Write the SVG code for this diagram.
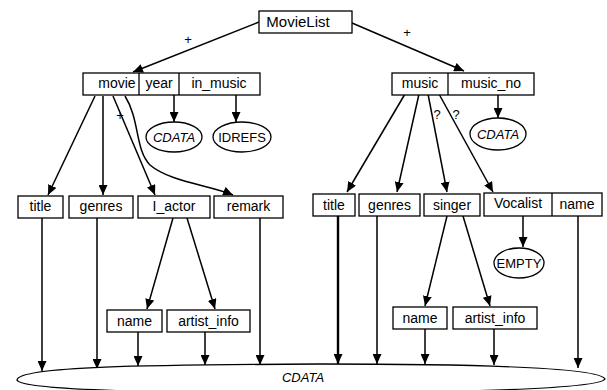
<svg xmlns="http://www.w3.org/2000/svg" width="607" height="390" viewBox="0 0 607 390">
  <defs>
    <marker id="arrow" markerUnits="userSpaceOnUse" markerWidth="10" markerHeight="9" refX="10" refY="4.5" orient="auto">
      <path d="M0,0 L10,4.5 L0,9 Z" fill="#000"/>
    </marker>
    <style>
      .box { fill: #fff; stroke: #000; stroke-width: 1.3; }
      .ell { fill: #fff; stroke: #000; stroke-width: 1.3; }
      .lbl { font-family: "Liberation Sans", Arial, sans-serif; font-size: 14px; fill: #000; text-anchor: middle; }
      .typ { font-family: "Liberation Sans", Arial, sans-serif; font-size: 13px; fill: #000; text-anchor: middle; }
      .it { font-style: italic; }
      .card { font-family: "Liberation Sans", Arial, sans-serif; font-size: 13px; fill: #000; text-anchor: middle; }
      .edge { fill: none; stroke: #000; stroke-width: 1.5; marker-end: url(#arrow); }
    </style>
  </defs>
  <rect width="607" height="390" fill="#fff"/>

  <!-- connectors -->
  <g id="connectors">
    <line class="edge" x1="259" y1="22" x2="133" y2="72"/>
    <line class="edge" x1="352" y1="23" x2="464" y2="71"/>
    <line class="edge" x1="174" y1="95" x2="174" y2="122"/>
    <line class="edge" x1="236" y1="95" x2="236" y2="122"/>
    <line class="edge" x1="498" y1="94" x2="498" y2="118"/>

    <line class="edge" x1="95" y1="96" x2="48" y2="195"/>
    <line class="edge" x1="103" y1="96" x2="103" y2="195"/>
    <line class="edge" x1="113" y1="96" x2="155" y2="195"/>
    <path class="edge" d="M125,96 C140,120 135,150 150,165 C170,182 210,185 233,195"/>

    <line class="edge" x1="405" y1="94" x2="347" y2="192"/>
    <line class="edge" x1="419" y1="94" x2="397" y2="192"/>
    <line class="edge" x1="428" y1="94" x2="447" y2="192"/>
    <line class="edge" x1="439" y1="94" x2="493" y2="192"/>

    <line class="edge" x1="173" y1="218" x2="147" y2="309"/>
    <line class="edge" x1="187" y1="218" x2="215" y2="309"/>
    <line class="edge" x1="447" y1="216" x2="425" y2="306"/>
    <line class="edge" x1="463" y1="216" x2="490" y2="306"/>
    <line class="edge" x1="523" y1="216" x2="523" y2="247"/>

    <line class="edge" x1="42" y1="218" x2="42" y2="371"/>
    <line class="edge" x1="97" y1="218" x2="97" y2="369"/>
    <line class="edge" x1="138" y1="332" x2="138" y2="366"/>
    <line class="edge" x1="205" y1="332" x2="205" y2="365"/>
    <line class="edge" x1="260" y1="218" x2="260" y2="365"/>
    <line class="edge" x1="338" y1="216" x2="338" y2="364" style="stroke-width:2.4"/>
    <line class="edge" x1="377" y1="216" x2="377" y2="364"/>
    <line class="edge" x1="425" y1="329" x2="425" y2="364"/>
    <line class="edge" x1="494" y1="329" x2="494" y2="365"/>
    <line class="edge" x1="578" y1="216" x2="578" y2="368"/>

    <text class="card" x="188" y="44">+</text>
    <text class="card" x="407" y="37">+</text>
    <text class="card" x="120" y="120">+</text>
    <text class="card" x="437" y="119">?</text>
    <text class="card" x="456" y="119">?</text>
  </g>

  <!-- root -->
  <g id="MovieList">
    <rect class="box" x="259" y="11" width="93" height="22"/>
    <text class="lbl" x="298" y="27" style="font-size:15px">MovieList</text>
  </g>

  <!-- movie element with attributes -->
  <g id="movie">
    <rect class="box" x="83" y="73" width="177" height="22"/>
    <line x1="139" y1="73" x2="139" y2="95" stroke="#000" stroke-width="1.3"/>
    <line x1="179" y1="73" x2="179" y2="95" stroke="#000" stroke-width="1.3"/>
    <text class="lbl" x="117" y="88">movie</text>
    <text class="lbl" x="159" y="88">year</text>
    <text class="lbl" x="219" y="88">in_music</text>
  </g>
  <g id="movie-year-type">
    <ellipse class="ell" cx="174" cy="137" rx="28" ry="15"/>
    <text class="typ it" x="174" y="142">CDATA</text>
  </g>
  <g id="movie-in_music-type">
    <ellipse class="ell" cx="242" cy="137" rx="29" ry="15"/>
    <text class="typ" x="242" y="142">IDREFS</text>
  </g>

  <!-- music element with attribute -->
  <g id="music">
    <rect class="box" x="392" y="73" width="142" height="22"/>
    <line x1="448" y1="73" x2="448" y2="95" stroke="#000" stroke-width="1.3"/>
    <text class="lbl" x="420" y="88">music</text>
    <text class="lbl" x="491" y="88">music_no</text>
  </g>
  <g id="music-no-type">
    <ellipse class="ell" cx="498" cy="134" rx="28" ry="16"/>
    <text class="typ it" x="498" y="139">CDATA</text>
  </g>

  <!-- movie children -->
  <g id="movie-title">
    <rect class="box" x="18" y="196" width="45" height="22"/>
    <text class="lbl" x="40.5" y="211">title</text>
  </g>
  <g id="movie-genres">
    <rect class="box" x="69" y="196" width="64" height="22"/>
    <text class="lbl" x="101" y="211">genres</text>
  </g>
  <g id="I_actor">
    <rect class="box" x="138" y="196" width="72" height="22"/>
    <text class="lbl" x="174" y="211">I_actor</text>
  </g>
  <g id="remark">
    <rect class="box" x="214" y="196" width="69" height="22"/>
    <text class="lbl" x="248.5" y="211">remark</text>
  </g>
  <g id="actor-name">
    <rect class="box" x="107" y="310" width="55" height="22"/>
    <text class="lbl" x="134.5" y="326">name</text>
  </g>
  <g id="actor-artist_info">
    <rect class="box" x="167" y="310" width="83" height="22"/>
    <text class="lbl" x="208.5" y="326">artist_info</text>
  </g>

  <!-- music children -->
  <g id="music-title">
    <rect class="box" x="313" y="194" width="42" height="22"/>
    <text class="lbl" x="334" y="210">title</text>
  </g>
  <g id="music-genres">
    <rect class="box" x="359" y="194" width="61" height="22"/>
    <text class="lbl" x="389.5" y="210">genres</text>
  </g>
  <g id="singer">
    <rect class="box" x="424" y="194" width="56" height="22"/>
    <text class="lbl" x="452" y="210">singer</text>
  </g>
  <g id="Vocalist">
    <rect class="box" x="484" y="193" width="118" height="23"/>
    <line x1="552" y1="193" x2="552" y2="216" stroke="#000" stroke-width="1.3"/>
    <text class="lbl" x="518" y="208">Vocalist</text>
    <text class="lbl" x="577" y="209">name</text>
  </g>
  <g id="vocalist-type">
    <ellipse class="ell" cx="519" cy="263" rx="25" ry="15"/>
    <text class="typ" x="519" y="268">EMPTY</text>
  </g>
  <g id="singer-name">
    <rect class="box" x="393" y="307" width="54" height="22"/>
    <text class="lbl" x="420" y="323">name</text>
  </g>
  <g id="singer-artist_info">
    <rect class="box" x="453" y="307" width="84" height="22"/>
    <text class="lbl" x="495" y="323">artist_info</text>
  </g>

  <!-- shared character data -->
  <g id="CDATA">
    <path class="ell" d="M17,380 C18,366 150,365 320,364 C490,364 600,368 605,379 C600,388 490,392 320,393 C150,393 20,390 17,380 Z"/>
    <text class="typ it" x="303" y="382">CDATA</text>
  </g>
</svg>
